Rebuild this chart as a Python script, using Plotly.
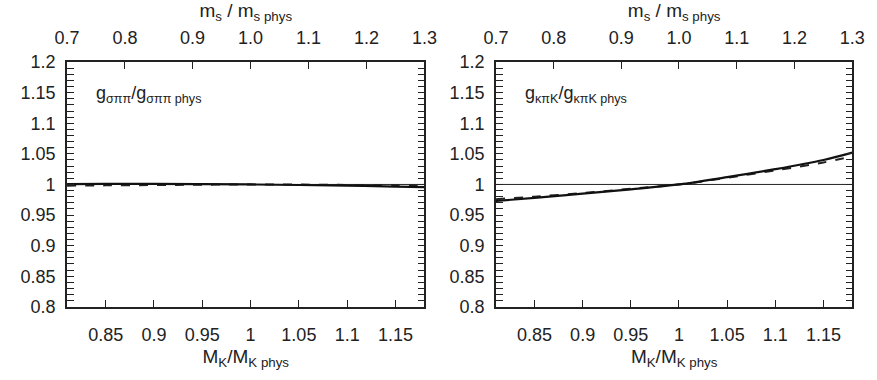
import plotly.graph_objects as go

# M_K / M_K,phys sample points
mk_ratio = [0.81, 0.85, 0.90, 0.95, 1.00, 1.05, 1.10, 1.15, 1.18]

# g_sigma_pi_pi normalised to the physical value
g_sigma_solid = [1.0005, 1.0010, 1.0010, 1.0006, 1.0000, 0.9991, 0.9980, 0.9966, 0.9956]
g_sigma_dash = [0.9980, 0.9985, 0.9990, 0.9996, 1.0000, 0.9998, 0.9992, 0.9985, 0.9980]

# g_kappa_pi_K normalised to the physical value
g_kappa_solid = [0.973, 0.978, 0.985, 0.992, 1.000, 1.012, 1.025, 1.040, 1.052]
g_kappa_dash = [0.976, 0.980, 0.986, 0.993, 1.000, 1.011, 1.023, 1.036, 1.046]

# strange-quark mass ratio on the top axis and where it sits on the M_K axis
ms_labels = ["0.7", "0.8", "0.9", "1.0", "1.1", "1.2", "1.3"]
ms_on_mk = [0.81, 0.870, 0.940, 1.000, 1.060, 1.120, 1.18]

mk_ticks = [0.85, 0.9, 0.95, 1.0, 1.05, 1.1, 1.15]
mk_ticktext = ["0.85", "0.9", "0.95", "1", "1.05", "1.1", "1.15"]
y_ticks = [0.8, 0.85, 0.9, 0.95, 1.0, 1.05, 1.1, 1.15, 1.2]
y_ticktext = ["0.8", "0.85", "0.9", "0.95", "1", "1.05", "1.1", "1.15", "1.2"]

X_RANGE = [0.81, 1.18]
Y_RANGE = [0.8, 1.2]
FONT = "Liberation Sans, Arial, sans-serif"
INK = "#222222"

fig = go.Figure()

panels = [
    ("x", "y", g_sigma_solid, g_sigma_dash),
    ("x2", "y2", g_kappa_solid, g_kappa_dash),
]
for xa, ya, solid, dash in panels:
    fig.add_trace(go.Scatter(x=X_RANGE, y=[1, 1], mode="lines", xaxis=xa, yaxis=ya,
                             line=dict(color=INK, width=1), showlegend=False, hoverinfo="skip"))
    fig.add_trace(go.Scatter(x=mk_ratio, y=dash, mode="lines", xaxis=xa, yaxis=ya,
                             line=dict(color=INK, width=2, dash="dash", shape="spline"),
                             showlegend=False))
    fig.add_trace(go.Scatter(x=mk_ratio, y=solid, mode="lines", xaxis=xa, yaxis=ya,
                             line=dict(color="#111111", width=2.2, shape="spline"),
                             showlegend=False))

tick_font = dict(family=FONT, size=18, color=INK)
title_font = dict(family=FONT, size=19, color=INK)
label_font = dict(family=FONT, size=18, color=INK)

domains = [[0.0635, 0.4835], [0.5675, 0.9863]]
ydom = [0.1755, 0.8553]

layout = dict(
    width=877, height=380,
    margin=dict(l=0, r=0, t=0, b=0),
    paper_bgcolor="white", plot_bgcolor="white",
    font=dict(family=FONT, color=INK),
)

for i, (xa, ya) in enumerate([("xaxis", "yaxis"), ("xaxis2", "yaxis2")]):
    n = "" if i == 0 else "2"
    top = "xaxis3" if i == 0 else "xaxis4"
    layout[xa] = dict(
        domain=domains[i], range=X_RANGE, anchor="y" + n,
        tickmode="array", tickvals=mk_ticks, ticktext=mk_ticktext,
        ticks="inside", ticklen=7, tickwidth=1.3, tickcolor=INK,
        showline=True, linecolor=INK, linewidth=1.6, mirror=True,
        showgrid=False, zeroline=False, tickfont=tick_font,
        ticklabelstandoff=11,
        title=dict(text="M<sub>K</sub>/M<sub>K phys</sub>", font=title_font, standoff=5),
    )
    layout[ya] = dict(
        domain=ydom, range=Y_RANGE, anchor="x" + n,
        tickmode="array", tickvals=y_ticks, ticktext=y_ticktext,
        ticks="inside", ticklen=7, tickwidth=1.3, tickcolor=INK,
        minor=dict(dtick=0.01, ticks="inside", ticklen=3.5, tickwidth=1, tickcolor=INK),
        showline=True, linecolor=INK, linewidth=1.6, mirror="allticks",
        showgrid=False, zeroline=False, tickfont=tick_font,
        ticklabelstandoff=6,
    )
    layout[top] = dict(
        overlaying="x" + n, side="top", anchor="y" + n, range=X_RANGE,
        tickmode="array", tickvals=ms_on_mk, ticktext=ms_labels,
        ticks="inside", ticklen=7, tickwidth=1.3, tickcolor=INK,
        showline=False, showgrid=False, zeroline=False, tickfont=tick_font,
        ticklabelstandoff=13,
        title=dict(text="m<sub>s</sub> / m<sub>s phys</sub>", font=title_font, standoff=10),
    )

fig.update_layout(**layout)

# empty traces so the top axes are drawn
fig.add_trace(go.Scatter(x=[None], y=[None], xaxis="x3", yaxis="y", showlegend=False))
fig.add_trace(go.Scatter(x=[None], y=[None], xaxis="x4", yaxis="y2", showlegend=False))

fig.add_annotation(x=0.838, y=1.147, xref="x", yref="y",
                   xanchor="left", yanchor="middle", showarrow=False,
                   text="g<sub>σππ</sub>/g<sub>σππ phys</sub>", font=label_font)
fig.add_annotation(x=0.838, y=1.147, xref="x2", yref="y2",
                   xanchor="left", yanchor="middle", showarrow=False,
                   text="g<sub>κπK</sub>/g<sub>κπK phys</sub>", font=label_font)

fig.write_html("out.html")
